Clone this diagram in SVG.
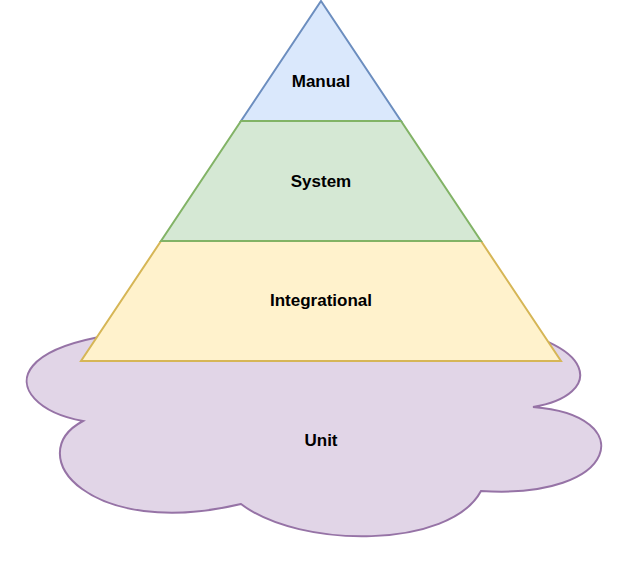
<svg xmlns="http://www.w3.org/2000/svg" width="643" height="563" viewBox="0 0 643 563">
<style>
.lbl{font-family:"Liberation Sans",Arial,sans-serif;font-size:17px;font-weight:bold;fill:#000;text-anchor:middle}
.s{stroke-width:2;stroke-linejoin:miter}
</style>
<rect width="643" height="563" fill="#ffffff"/>
<g id="unit">
<path class="s" fill="#e1d5e7" stroke="#9673a6" d="M 240 330 C -15 320 -5 405 83 421 C 20 455 90 540 241 504 C 300 549 450 549 481 491 C 620 500 640 415 533 407 C 605 395 600 340 480 325 C 430 290 290 290 240 330 Z"/>
<text class="lbl" x="321" y="446">Unit</text>
</g>
<g id="manual">
<polygon class="s" fill="#dae8fc" stroke="#6c8ebf" points="321,1 401,121 241,121"/>
<text class="lbl" x="321" y="87">Manual</text>
</g>
<g id="integrational">
<polygon class="s" fill="#fff2cc" stroke="#d6b656" points="161,241 481,241 561,361 81,361"/>
<text class="lbl" x="321" y="306">Integrational</text>
</g>
<g id="system">
<polygon class="s" fill="#d5e8d4" stroke="#82b366" points="241,121 401,121 481,241 161,241"/>
<text class="lbl" x="321" y="187">System</text>
</g>
<g id="connectors"></g>
</svg>
